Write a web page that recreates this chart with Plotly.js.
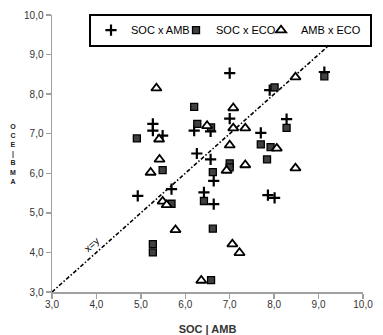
<!DOCTYPE html>
<html>
<head>
<meta charset="utf-8">
<script src="https://cdn.plot.ly/plotly-3.0.1.min.js"></script>
<style>html,body{margin:0;padding:0;background:#fff;}#chart{width:383px;height:335px;}</style>
</head>
<body>
<div id="chart"></div>
<script>
// SOC x AMB (plus markers)
var socAmbX = [7.00, 7.90, 9.13, 7.00, 8.28, 5.27, 5.27, 5.49, 6.20, 6.57, 7.70, 6.26, 6.57, 6.64, 4.93, 5.69, 6.42, 6.64, 7.86, 8.01];
var socAmbY = [8.53, 8.10, 8.56, 7.38, 7.37, 7.25, 7.08, 6.95, 7.08, 7.06, 7.02, 6.50, 6.35, 5.81, 5.43, 5.60, 5.52, 5.22, 5.45, 5.38];
// SOC x ECO (square markers)
var socEcoX = [6.20, 8.01, 9.13, 4.91, 6.27, 6.58, 8.28, 7.70, 7.92, 7.84, 7.00, 7.00, 6.62, 5.49, 5.69, 6.42, 6.62, 5.27, 5.27, 6.58];
var socEcoY = [7.68, 8.17, 8.45, 6.88, 7.25, 7.16, 7.15, 6.73, 6.66, 6.35, 6.25, 6.15, 6.03, 6.08, 5.23, 5.30, 4.60, 4.21, 4.00, 3.30];
// AMB x ECO (triangle markers)
var ambEcoX = [5.35, 7.08, 8.48, 5.41, 6.49, 7.08, 7.35, 7.00, 8.06, 8.48, 6.93, 7.35, 5.42, 5.22, 5.49, 5.58, 5.78, 7.06, 7.22, 6.36];
var ambEcoY = [8.15, 7.65, 8.43, 6.86, 7.20, 7.14, 7.14, 6.71, 6.63, 6.13, 6.07, 6.21, 6.35, 6.02, 5.29, 5.20, 4.57, 4.21, 3.99, 3.29];
// x = y reference line
var diagXY = [3, 10];
var seriesNames = ['SOC x AMB', 'SOC x ECO', 'AMB x ECO'];
var xTitle = 'SOC | AMB';
var yTitleLetters = ['O', 'C', 'E', '|', 'B', 'M', 'A'];
var diagLabel = 'x=y';

var FONT = 'Liberation Sans, Arial, sans-serif';

var traces = [
  {x: diagXY, y: diagXY, mode: 'lines', showlegend: false, hoverinfo: 'skip',
   line: {color: '#000', width: 1.6, dash: '4px,2px,1.5px,2px'}},
  {x: socAmbX, y: socAmbY, mode: 'markers', name: seriesNames[0], type: 'scatter',
   marker: {symbol: 'cross-thin', size: 8, color: '#000', line: {width: 2.2, color: '#000'}}},
  {x: socEcoX, y: socEcoY, mode: 'markers', name: seriesNames[1], type: 'scatter',
   marker: {symbol: 'square', size: 7, color: '#404040', line: {width: 1.3, color: '#000'}}},
  {x: ambEcoX, y: ambEcoY, mode: 'markers', name: seriesNames[2], type: 'scatter', legendwidth: 64,
   marker: {symbol: 'triangle-up', size: 9, color: '#fff', line: {width: 1.8, color: '#000'}}}
];

var axisCommon = {
  range: [3, 10], dtick: 1, tick0: 3, tickformat: '.1f',
  showgrid: false, zeroline: false, automargin: false,
  showline: true, linecolor: '#a0a0a0', linewidth: 1.5,
  ticks: 'outside', ticklen: 5, tickwidth: 1.5, tickcolor: '#a0a0a0',
  tickfont: {family: FONT, size: 10, color: '#333'},
  fixedrange: true
};

var layout = {
  width: 383, height: 335,
  margin: {l: 52, r: 11, t: 15, b: 43},
  paper_bgcolor: '#fff', plot_bgcolor: '#fff',
  separators: ',.',
  font: {family: FONT, color: '#000'},
  xaxis: Object.assign({}, axisCommon, {
    ticklabelstandoff: -3,
    title: {text: '<b>' + xTitle + '</b>', font: {family: FONT, size: 11, color: '#333'}, standoff: 22}
  }),
  yaxis: Object.assign({}, axisCommon, {}),
  showlegend: true,
  legend: {
    orientation: 'h', x: 0.119, xanchor: 'left', y: 1.005, yanchor: 'top',
    bordercolor: '#000', borderwidth: 2, bgcolor: '#fff',
    font: {family: FONT, size: 11, color: '#000'},
    entrywidth: 40, entrywidthmode: 'pixels', itemwidth: 30
  },
  annotations: [
    {xref: 'paper', yref: 'paper', x: -0.125, y: 0.5, xanchor: 'center', yanchor: 'middle',
     text: '<b>' + yTitleLetters.join('<br>') + '</b>', showarrow: false,
     font: {family: FONT, size: 7, color: '#222'}},
    {xref: 'x', yref: 'y', x: 3.9, y: 4.19, text: diagLabel, showarrow: false, textangle: -41,
     font: {family: FONT, size: 10, color: '#000'}}
  ]
};

Plotly.newPlot('chart', traces, layout, {displayModeBar: false, staticPlot: true});
</script>
</body>
</html>
